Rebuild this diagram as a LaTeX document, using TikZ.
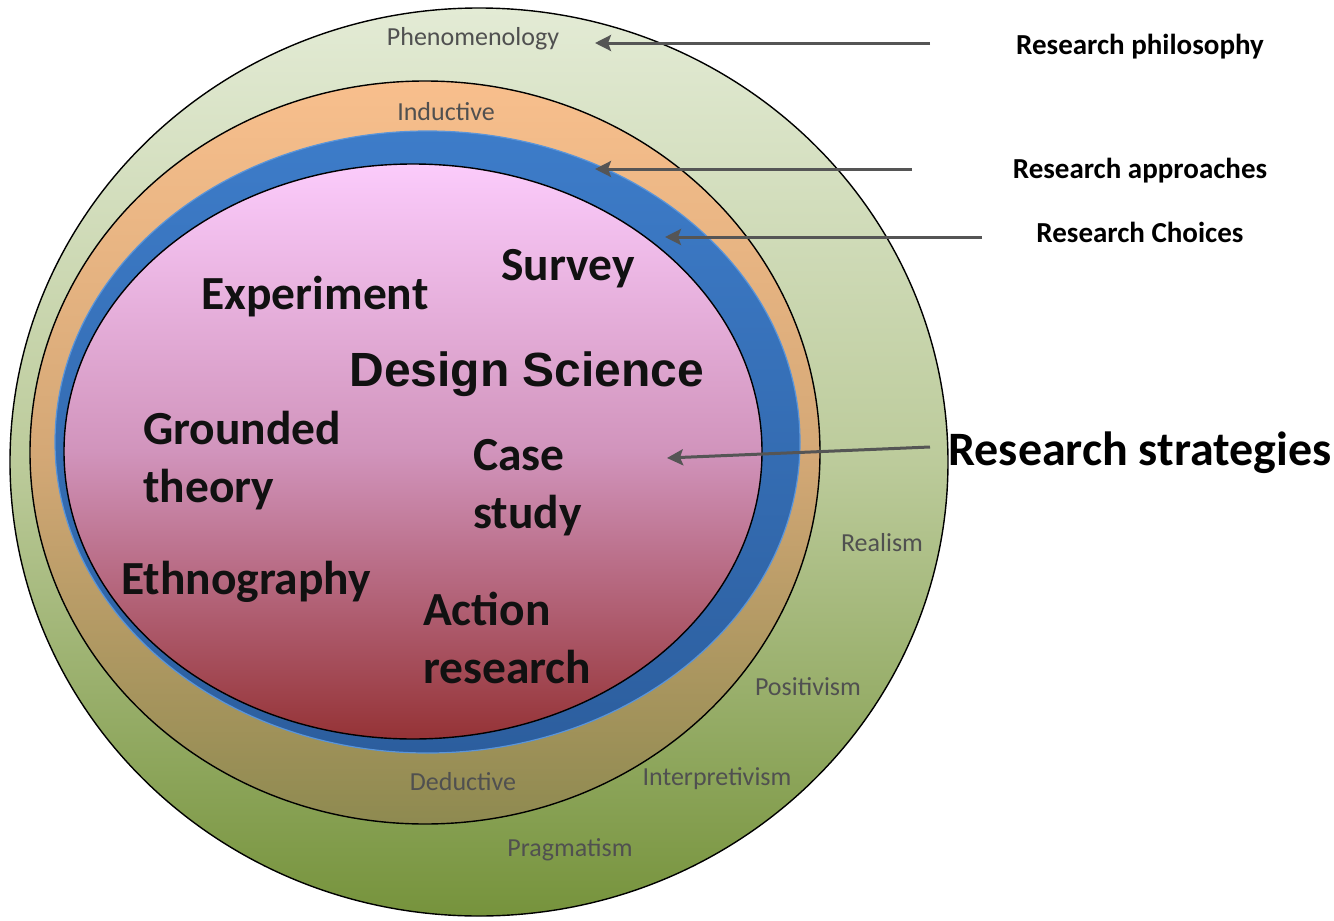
\documentclass[tikz,border=0pt]{standalone}
\usepackage{fontspec}
\setmainfont{Carlito}
\newfontfamily\arialfont{Liberation Sans}
\usetikzlibrary{arrows.meta}
\definecolor{grayarrow}{HTML}{555555}
\definecolor{graytext}{HTML}{505050}
\definecolor{blacktext}{HTML}{111111}
\definecolor{gtop}{HTML}{E3EBD5}
\definecolor{gmid}{HTML}{BCCB9B}
\definecolor{gbot}{HTML}{76933C}
\definecolor{otop}{HTML}{F8BF8D}
\definecolor{omid}{HTML}{D4A876}
\definecolor{obot}{HTML}{8E8A50}
\definecolor{btop}{HTML}{3D7CC9}
\definecolor{bbot}{HTML}{2C5E9E}
\definecolor{bedge}{HTML}{5A95DA}
\definecolor{ptop}{HTML}{FBCBFB}
\definecolor{pmid}{HTML}{D194BC}
\definecolor{pbot}{HTML}{953336}
\tikzset{
  ring/.style={draw=black, line width=1.4pt},
  arr/.style={draw=grayarrow, line width=3pt, -{Stealth[length=16pt,width=16pt,inset=3pt]}},
  layerlabel/.style={text=graytext, font=\fontsize{26}{30}\selectfont, inner sep=0pt},
  strategy/.style={text=blacktext, font=\fontsize{47.5}{58}\selectfont\bfseries, inner sep=0pt, align=left},
  sidelabel/.style={text=black, font=\fontsize{29}{34}\selectfont\bfseries, inner sep=0pt}
}
\begin{document}
\begin{tikzpicture}[x=1pt,y=-1pt]
\useasboundingbox (0,0) rectangle (1334,921);
% layers
\path[ring, top color=gtop, bottom color=gbot, middle color=gmid] (479,462) ellipse [x radius=469pt, y radius=454pt];
\path[ring, top color=otop, bottom color=obot, middle color=omid] (425,452.5) ellipse [x radius=395pt, y radius=371.5pt];
\path[draw=bedge, line width=1.2pt, top color=btop, bottom color=bbot] (427.5,442) ellipse [x radius=372.5pt, y radius=311pt];
\path[ring, top color=ptop, bottom color=pbot, middle color=pmid] (413,451.5) ellipse [x radius=349pt, y radius=287.5pt];
% layer labels
\node[layerlabel] (phen) at (473,39) {Phenomenology};
\node[layerlabel] (ind) at (446,112) {Inductive};
\node[layerlabel] (real) at (882,543) {Realism};
\node[layerlabel] (pos) at (808,687) {Positivism};
\node[layerlabel] (ded) at (463,782) {Deductive};
\node[layerlabel] (interp) at (717,779) {Interpretivism};
\node[layerlabel] (prag) at (570,850) {Pragmatism};
% strategies
\node[strategy] (exp) at (315,297) {Experiment};
\node[strategy] (survey) at (568,269) {Survey};
\node[text=blacktext, font=\fontsize{48}{56}\selectfont\arialfont\bfseries, inner sep=0pt] (ds) at (527,374) {Design Science};
\node[strategy, anchor=west] (gt) at (143,461) {Grounded\\theory};
\node[strategy, anchor=west] (cs) at (473,488) {Case\\study};
\node[strategy] (eth) at (246,582) {Ethnography};
\node[strategy, anchor=west] (ar) at (423,638) {Action\\research};
% side labels
\node[sidelabel] (rphil) at (1140,47) {Research philosophy};
\node[sidelabel] (rappr) at (1140,171) {Research approaches};
\node[sidelabel] (rchoi) at (1140,232) {Research Choices};
\node[text=black, font=\fontsize{48}{54}\selectfont\bfseries, inner sep=0pt] (rstrat) at (1140,453) {Research strategies};
% arrows
\coordinate (a1s) at (930,43); \coordinate (a1e) at (595,43);
\coordinate (a2s) at (912,169); \coordinate (a2e) at (595,169);
\coordinate (a3s) at (982,237); \coordinate (a3e) at (665,237);
\coordinate (a4s) at (930,447); \coordinate (a4e) at (667,458);
\draw[arr] (a1s) -- (a1e);
\draw[arr] (a2s) -- (a2e);
\draw[arr] (a3s) -- (a3e);
\draw[arr] (a4s) -- (a4e);
\end{tikzpicture}
\end{document}
